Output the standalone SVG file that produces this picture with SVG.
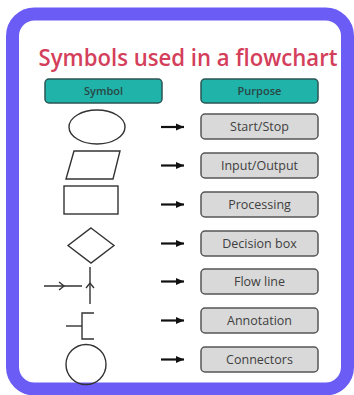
<svg xmlns="http://www.w3.org/2000/svg" width="354" height="395" viewBox="0 0 354 395">
<defs>
<marker id="ah" markerWidth="9" markerHeight="9" refX="8" refY="4.5" orient="auto" markerUnits="userSpaceOnUse">
<path d="M0,1 L8,4.5 L0,8 Z" fill="#111"/>
</marker>
<style>
.hdr{fill:#1fb3a9;stroke:#2b5554;stroke-width:1.5}
.hdt{font-family:"Open Sans","Liberation Sans",sans-serif;font-size:11px;fill:#2a4745;text-anchor:middle;font-weight:600}
.box{fill:#d9d9d9;stroke:#555;stroke-width:1.5}
.bt{font-family:"Open Sans","Liberation Sans",sans-serif;font-size:12.5px;fill:#404040;text-anchor:middle}
.sym{fill:none;stroke:#333;stroke-width:1.4}
.arr{stroke:#111;stroke-width:2.2;fill:none}
</style>
</defs>
<rect x="0" y="0" width="354" height="395" fill="#fff"/>
<rect x="12.5" y="14" width="335" height="375" rx="22" fill="#fff" stroke="#6b5cf5" stroke-width="13"/>
<text x="188" y="66" font-family="'Open Sans','Liberation Sans',sans-serif" font-size="23" font-weight="600" fill="#d43f5c" text-anchor="middle" textLength="299" lengthAdjust="spacingAndGlyphs">Symbols used in a flowchart</text>

<g id="header-symbol"><rect class="hdr" x="45" y="79" width="117" height="24" rx="4"/><text class="hdt" x="103.5" y="95">Symbol</text></g>
<g id="header-purpose"><rect class="hdr" x="201" y="79" width="117" height="24" rx="4"/><text class="hdt" x="259.5" y="95">Purpose</text></g>

<g id="sym-terminal"><ellipse class="sym" cx="97" cy="127" rx="28" ry="17"/></g>
<g id="sym-io"><polygon class="sym" points="74,151 120,151 113,179 66,179"/></g>
<g id="sym-process"><rect class="sym" x="64" y="186" width="54" height="28"/></g>
<g id="sym-decision"><polygon class="sym" points="91,228 114,245.5 91,263 68,245.5"/></g>
<g id="sym-flowline">
<line class="sym" x1="44" y1="286" x2="82" y2="286"/>
<polyline class="sym" points="59,282 64,286 59,290"/>
<line class="sym" x1="90" y1="267" x2="90" y2="304"/>
<polyline class="sym" points="86,288 90,283 94,288"/>
</g>
<g id="sym-annotation"><polyline class="sym" points="94,313 82,313 82,339 94,339"/><line class="sym" x1="66" y1="326" x2="82" y2="326"/></g>
<g id="sym-connector"><circle class="sym" cx="86" cy="364.5" r="20"/></g>

<g id="box-startstop"><rect class="box" x="201" y="114" width="117" height="25" rx="4"/><text class="bt" x="259.5" y="131">Start/Stop</text></g>
<g id="box-io"><rect class="box" x="201" y="153" width="117" height="25" rx="4"/><text class="bt" x="259.5" y="170">Input/Output</text></g>
<g id="box-processing"><rect class="box" x="201" y="192" width="117" height="25" rx="4"/><text class="bt" x="259.5" y="209">Processing</text></g>
<g id="box-decision"><rect class="box" x="201" y="231" width="117" height="25" rx="4"/><text class="bt" x="259.5" y="248">Decision box</text></g>
<g id="box-flowline"><rect class="box" x="201" y="269" width="117" height="25" rx="4"/><text class="bt" x="259.5" y="286">Flow line</text></g>
<g id="box-annotation"><rect class="box" x="201" y="308" width="117" height="25" rx="4"/><text class="bt" x="259.5" y="325">Annotation</text></g>
<g id="box-connectors"><rect class="box" x="201" y="347" width="117" height="25" rx="4"/><text class="bt" x="259.5" y="364">Connectors</text></g>

<g id="connectors">
<line class="arr" x1="161" y1="127" x2="184" y2="127" marker-end="url(#ah)"/>
<line class="arr" x1="161" y1="165.5" x2="184" y2="165.5" marker-end="url(#ah)"/>
<line class="arr" x1="161" y1="204.5" x2="184" y2="204.5" marker-end="url(#ah)"/>
<line class="arr" x1="161" y1="243.5" x2="184" y2="243.5" marker-end="url(#ah)"/>
<line class="arr" x1="161" y1="281.5" x2="184" y2="281.5" marker-end="url(#ah)"/>
<line class="arr" x1="161" y1="320.5" x2="184" y2="320.5" marker-end="url(#ah)"/>
<line class="arr" x1="161" y1="359.5" x2="184" y2="359.5" marker-end="url(#ah)"/>
</g>
</svg>
